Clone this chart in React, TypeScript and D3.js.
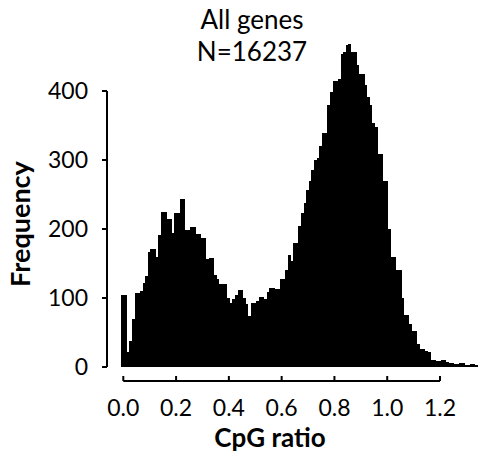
import React from "react";
import * as d3 from "d3";

const counts: number[] = [
  105, 105, 22, 37, 70, 107, 107, 110, 122, 132, 167, 171, 171, 160, 192, 224, 224, 214, 214, 194,
  223, 223, 243, 243, 198, 198, 203, 203, 193, 193, 187, 187, 157, 158, 158, 134, 128, 121, 121, 121,
  100, 93, 98, 105, 111, 111, 100, 91, 74, 93, 93, 95, 102, 102, 98, 109, 114, 114, 113, 113,
  128, 128, 141, 162, 153, 180, 180, 205, 223, 238, 256, 269, 286, 300, 303, 320, 339, 339, 380, 399,
  415, 415, 417, 454, 457, 466, 468, 457, 457, 437, 425, 425, 409, 392, 380, 353, 348, 308, 308, 269,
  269, 200, 160, 160, 140, 140, 100, 76, 76, 63, 52, 52, 33, 26, 26, 23, 22, 10, 10, 9,
  9, 10, 10, 7, 6, 6, 4, 4, 6, 6, 3, 3, 4, 4, 3,
];
const binWidth = 0.01;
const binStart = -0.007;
const xTicks: number[] = [0, 0.2, 0.4, 0.6, 0.8, 1.0, 1.2];
const yTicks: number[] = [0, 100, 200, 300, 400];
const titleLines: string[] = ["All genes", "N=16237"];
const xLabel = "CpG ratio";
const yLabel = "Frequency";

const W = 478;
const H = 457;
const FONT = "Lato, 'Open Sans', sans-serif";

export default function App() {
  const xs = d3.scaleLinear().domain([0, 1.2]).range([123.3, 440]);
  const ys = d3.scaleLinear().domain([0, 400]).range([367, 91]);
  const bw = xs(binWidth) - xs(0);
  const axisY = 381;
  const axisX = 107;

  return (
    <svg
      width={W}
      height={H}
      style={{ position: "absolute", left: 0, top: 0, background: "#fff" }}
    >
      <rect x={0} y={0} width={W} height={H} fill="#fff" />
      <g shapeRendering="crispEdges">
        {counts.map((c, k) => {
          const x0 = xs(binStart + k * binWidth);
          return (
            <rect
              key={k}
              x={x0}
              y={ys(c)}
              width={bw + 0.3}
              height={ys(0) - ys(c)}
              fill="#000"
            />
          );
        })}
      </g>
      <line x1={axisX} x2={axisX} y1={ys(400)} y2={ys(0)} stroke="#000" strokeWidth={2} />
      {yTicks.map((t) => (
        <g key={t}>
          <line x1={axisX - 5} x2={axisX} y1={ys(t)} y2={ys(t)} stroke="#000" strokeWidth={2} />
          <text
            x={88}
            y={ys(t)}
            dy="0.36em"
            textAnchor="end"
            fontFamily={FONT}
            fontSize={23}
            fill="#000"
          >
            {t}
          </text>
        </g>
      ))}
      <line x1={xs(0)} x2={xs(1.2)} y1={axisY} y2={axisY} stroke="#000" strokeWidth={2} />
      {xTicks.map((t) => (
        <g key={t}>
          <line x1={xs(t)} x2={xs(t)} y1={axisY - 5} y2={axisY} stroke="#000" strokeWidth={2} />
          <text
            x={xs(t)}
            y={416}
            textAnchor="middle"
            fontFamily={FONT}
            fontSize={23}
            fill="#000"
          >
            {t.toFixed(1)}
          </text>
        </g>
      ))}
      {titleLines.map((s, i) => (
        <text
          key={i}
          x={252}
          y={29 + i * 32}
          textAnchor="middle"
          fontFamily={FONT}
          fontSize={26}
          fill="#000"
        >
          {s}
        </text>
      ))}
      <text
        x={270}
        y={447}
        textAnchor="middle"
        fontFamily={FONT}
        fontSize={26}
        fontWeight="bold"
        fill="#000"
      >
        {xLabel}
      </text>
      <text
        transform="translate(30,224) rotate(-90)"
        textAnchor="middle"
        fontFamily={FONT}
        fontSize={27}
        fontWeight="bold"
        fill="#000"
      >
        {yLabel}
      </text>
    </svg>
  );
}
